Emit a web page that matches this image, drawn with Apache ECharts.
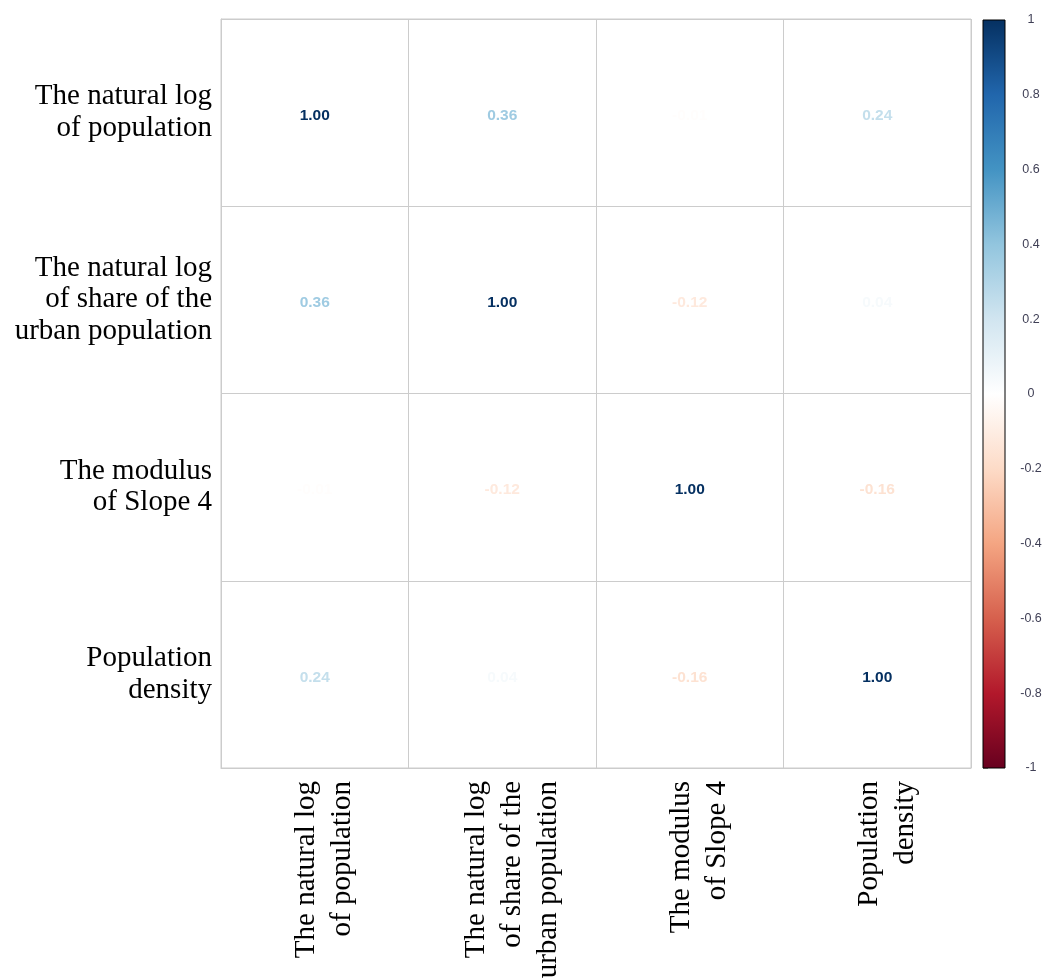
<!DOCTYPE html>
<html>
<head>
<meta charset="utf-8">
<script src="https://cdn.jsdelivr.net/npm/echarts@6/dist/echarts.min.js"></script>
<style>html,body{margin:0;padding:0;background:#fff;}#c{width:1045px;height:979px;}</style>
</head>
<body>
<div id="c"></div>
<script>
const variables = [
  'The natural log\nof population',
  'The natural log\nof share of the\nurban population',
  'The modulus\nof Slope 4',
  'Population\ndensity'
];
const row1 = [1.00, 0.36, -0.01, 0.24];
const row2 = [0.36, 1.00, -0.12, 0.04];
const row3 = [-0.01, -0.12, 1.00, -0.16];
const row4 = [0.24, 0.04, -0.16, 1.00];
const matrix = [row1, row2, row3, row4];
const colorbarRange = [-1, 1];
const RDBU = ['#67001F', '#B2182B', '#D6604D', '#F4A582', '#FDDBC7', '#FFFFFF',
              '#D1E5F0', '#92C5DE', '#4393C3', '#2166AC', '#053061'];

function hexToRgb(h) {
  return [parseInt(h.slice(1,3),16), parseInt(h.slice(3,5),16), parseInt(h.slice(5,7),16)];
}
function colorFor(v) {
  const t = (v + 1) / 2 * (RDBU.length - 1);
  const i = Math.min(Math.floor(t), RDBU.length - 2);
  const f = t - i;
  const a = hexToRgb(RDBU[i]), b = hexToRgb(RDBU[i+1]);
  const c = a.map((x, k) => Math.round(x + (b[k] - x) * f));
  return 'rgb(' + c.join(',') + ')';
}

const heatData = [];
matrix.forEach((row, r) => {
  row.forEach((v, c) => {
    heatData.push({ value: [c, r, v], label: { color: colorFor(v) } });
  });
});

const stops = RDBU.map((col, i) => ({ offset: 1 - i / (RDBU.length - 1), color: col }));

const serifStyle = { fontFamily: 'Liberation Serif', fontSize: 29, color: '#000' };

const chart = echarts.init(document.getElementById('c'));
chart.setOption({
  animation: false,
  backgroundColor: '#fff',
  grid: [
    { left: 221, top: 19, width: 750, height: 749, show: true, borderColor: '#cccccc', borderWidth: 1,
      backgroundColor: 'transparent', containLabel: false, outerBoundsMode: 'none' },
    { left: 983, top: 20, width: 22, height: 748, containLabel: false, outerBoundsMode: 'none' }
  ],
  xAxis: [
    {
      gridIndex: 0, type: 'category', data: variables, position: 'bottom',
      axisLine: { show: true, lineStyle: { color: '#cccccc' } },
      axisTick: { show: false },
      splitLine: { show: true, lineStyle: { color: '#cccccc', width: 1 } },
      axisLabel: {
        rotate: 90, margin: 13, interval: 0, hideOverlap: false,
        formatter: v => '{g|}\n' + v.split('\n').map(l => '{t|' + l + '}').join('\n'),
        rich: {
          g: { lineHeight: 20, fontSize: 10 },
          t: Object.assign({ lineHeight: 36 }, serifStyle)
        },
        fontFamily: 'Liberation Serif', fontSize: 29, color: '#000'
      }
    },
    { gridIndex: 1, type: 'value', min: 0, max: 1, show: false }
  ],
  yAxis: [
    {
      gridIndex: 0, type: 'category', data: variables, inverse: true,
      axisLine: { show: true, lineStyle: { color: '#cccccc' } },
      axisTick: { show: false },
      splitLine: { show: true, lineStyle: { color: '#cccccc', width: 1 } },
      axisLabel: Object.assign({
        margin: 9, interval: 0, align: 'right', lineHeight: 31.5
      }, serifStyle)
    },
    {
      gridIndex: 1, type: 'value', min: -1, max: 1, interval: 0.2, position: 'right',
      axisLine: { show: false },
      axisTick: { show: true, length: 5, lineStyle: { color: '#999' } },
      splitLine: { show: false },
      axisLabel: { margin: 26, align: 'center', fontFamily: 'Liberation Sans', fontSize: 12.5, color: '#3f3f55' }
    }
  ],
  series: [
    {
      type: 'heatmap', xAxisIndex: 0, yAxisIndex: 0, data: heatData,
      itemStyle: { color: 'rgba(0,0,0,0)' },
      label: {
        show: true, fontFamily: 'Liberation Sans', fontSize: 15.5, fontWeight: 'bold',
        offset: [0, 3],
        formatter: p => p.value[2].toFixed(2)
      },
      emphasis: { disabled: true }
    },
    {
      type: 'custom', xAxisIndex: 1, yAxisIndex: 1, data: [colorbarRange],
      renderItem: function (params, api) {
        const p1 = api.coord([0, api.value(1)]);
        const p2 = api.coord([1, api.value(0)]);
        return {
          type: 'rect',
          shape: { x: p1[0], y: p1[1], width: p2[0] - p1[0], height: p2[1] - p1[1] },
          style: { fill: new echarts.graphic.LinearGradient(0, 0, 0, 1, stops), stroke: '#000', lineWidth: 1 }
        };
      }
    }
  ]
});
</script>
</body>
</html>
